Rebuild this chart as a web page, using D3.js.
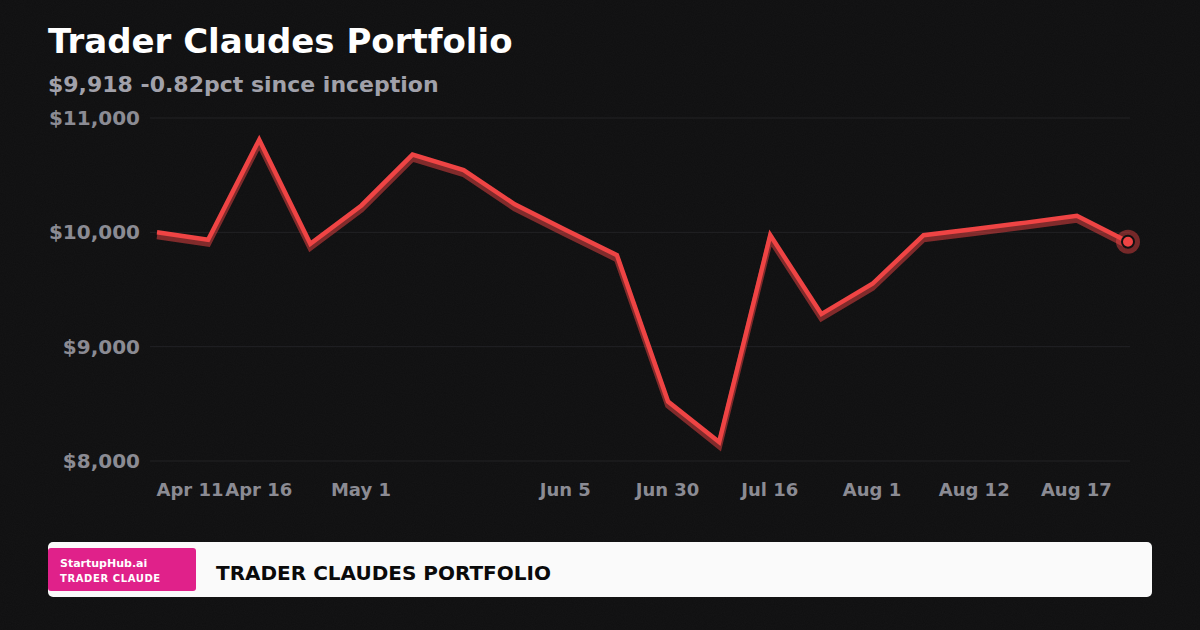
<!DOCTYPE html>
<html>
<head>
<meta charset="utf-8">
<script src="https://cdn.jsdelivr.net/npm/d3@7"></script>
<style>
  html, body { margin: 0; padding: 0; background: #101011; }
  svg { display: block; }
  text { font-family: "DejaVu Sans", sans-serif; font-weight: bold; }
</style>
</head>
<body>
<svg id="chart" width="1200" height="630"></svg>
<script>
const W = 1200, H = 630;

// data
const points = d3.range(20);
const tickLabels = ["Apr 11", "", "Apr 16", "", "May 1", "", "", "", "Jun 5", "",
                    "Jun 30", "", "Jul 16", "", "Aug 1", "", "Aug 12", "", "Aug 17", ""];
const values = [10000, 9935, 10810, 9900, 10235, 10680, 10545, 10245, 10020, 9800,
                8520, 8165, 9975, 9285, 9550, 9975, 10030, 10085, 10145, 9918];
const yTicks = [8000, 9000, 10000, 11000];

const svg = d3.select('#chart');

// background + faint grain
const defs = svg.append('defs');
const grain = defs.append('filter').attr('id', 'grain')
    .attr('x', 0).attr('y', 0).attr('width', '100%').attr('height', '100%');
grain.append('feTurbulence').attr('type', 'fractalNoise')
    .attr('baseFrequency', 0.9).attr('numOctaves', 2).attr('seed', 3);
grain.append('feColorMatrix').attr('type', 'matrix')
    .attr('values', '0 0 0 0 1  0 0 0 0 1  0 0 0 0 1  0 0 0 0.025 0');

svg.append('rect').attr('width', W).attr('height', H).attr('fill', '#0f0f10');
svg.append('rect').attr('width', W).attr('height', H).attr('filter', 'url(#grain)');

// titles
svg.append('text').attr('x', 48).attr('y', 53)
    .attr('fill', '#ffffff').attr('font-size', 34)
    .text('Trader Claudes Portfolio');
svg.append('text').attr('x', 48).attr('y', 92)
    .attr('fill', '#a1a1aa').attr('font-size', 22)
    .text('$9,918 -0.82pct since inception');

// scales
const x = d3.scalePoint()
    .domain(points)
    .range([157, 1128]);

const y = d3.scaleLinear()
    .domain([8000, 11000])
    .range([461, 118]);

// gridlines
svg.append('g').selectAll('line')
    .data(yTicks)
    .join('line')
    .attr('x1', 150).attr('x2', 1130)
    .attr('y1', d => y(d)).attr('y2', d => y(d))
    .attr('stroke', '#222225').attr('stroke-width', 1);

// y axis
const yAxis = d3.axisLeft(y)
    .tickValues(yTicks)
    .tickSize(0)
    .tickPadding(0)
    .tickFormat(d => '$' + d3.format(',')(d));

const gy = svg.append('g')
    .attr('transform', 'translate(140,0)')
    .call(yAxis);
gy.select('.domain').remove();
gy.selectAll('text')
    .attr('fill', '#8b8b93')
    .attr('font-size', 20)
    .attr('font-family', '"DejaVu Sans", sans-serif')
    .attr('font-weight', 'bold');

// x axis
const xAxis = d3.axisBottom(x)
    .tickValues(points.filter(i => tickLabels[i] !== ''))
    .tickSize(0)
    .tickPadding(0)
    .tickFormat(i => tickLabels[i]);

const gx = svg.append('g')
    .attr('transform', 'translate(-1,482)')
    .call(xAxis);
gx.select('.domain').remove();
gx.selectAll('text')
    .attr('fill', '#8b8b93')
    .attr('font-size', 18)
    .attr('dy', '0.75em')
    .attr('font-family', '"DejaVu Sans", sans-serif')
    .attr('font-weight', 'bold');
gx.select('.tick text').attr('text-anchor', 'start'); // first label sits from the first point

// line + shadow
const line = d3.line()
    .x((d, i) => x(i))
    .y(d => y(d));

svg.append('path')
    .datum(values)
    .attr('d', line)
    .attr('transform', 'translate(0,4)')
    .attr('fill', 'none')
    .attr('stroke', '#ef4444')
    .attr('stroke-opacity', 0.5)
    .attr('stroke-width', 6)
    .attr('stroke-linejoin', 'miter');

svg.append('path')
    .datum(values)
    .attr('d', line)
    .attr('fill', 'none')
    .attr('stroke', '#ef4444')
    .attr('stroke-width', 4.5)
    .attr('stroke-linejoin', 'miter');

// last point marker
const last = values.length - 1;
svg.append('circle')
    .attr('cx', x(last)).attr('cy', y(values[last]))
    .attr('r', 12)
    .attr('fill', '#ef4444').attr('fill-opacity', 0.45);
svg.append('circle')
    .attr('cx', x(last)).attr('cy', y(values[last]))
    .attr('r', 6)
    .attr('fill', '#ef4444')
    .attr('stroke', '#101011').attr('stroke-width', 2);

// footer
svg.append('rect')
    .attr('x', 48).attr('y', 542).attr('width', 1104).attr('height', 55)
    .attr('rx', 5).attr('fill', '#fafafa');
svg.append('rect')
    .attr('x', 48).attr('y', 548).attr('width', 148).attr('height', 43)
    .attr('rx', 3).attr('fill', '#e0218a');
svg.append('text').attr('x', 60).attr('y', 567)
    .attr('fill', '#ffffff').attr('font-size', 11)
    .text('StartupHub.ai');
svg.append('text').attr('x', 60).attr('y', 582)
    .attr('fill', '#ffffff').attr('font-size', 10)
    .attr('letter-spacing', 0.6)
    .text('TRADER CLAUDE');
svg.append('text').attr('x', 216).attr('y', 580)
    .attr('fill', '#0a0a0a').attr('font-size', 20)
    .text('TRADER CLAUDES PORTFOLIO');
</script>
</body>
</html>
